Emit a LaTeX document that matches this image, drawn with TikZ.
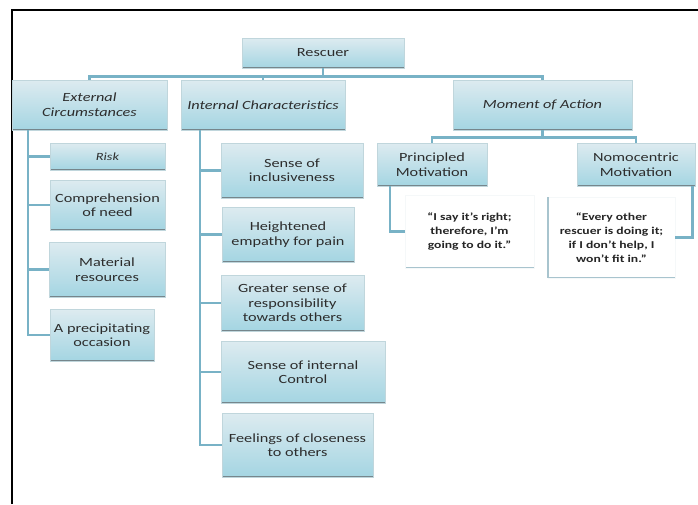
\documentclass[tikz,border=0pt]{standalone}
\usepackage{fontspec}
\setmainfont{Carlito}[FakeStretch=1.3]
\usetikzlibrary{calc}
\definecolor{boxtop}{RGB}{221,235,240}
\definecolor{boxbot}{RGB}{164,213,226}
\definecolor{boxline}{RGB}{192,214,220}
\definecolor{boxshadow}{RGB}{118,134,140}
\definecolor{conn}{RGB}{120,178,198}
\definecolor{txt}{RGB}{45,45,45}
\definecolor{qline}{RGB}{168,196,206}

\begin{document}
\begin{tikzpicture}[x=1pt,y=-1pt,line width=.8pt,font=\fontsize{12.5}{14.5}\selectfont,
  box/.style={shade,top color=boxtop,bottom color=boxbot,draw=boxline,line width=.4pt,
    align=center,inner sep=2pt,text=txt,
    path picture={\draw[boxshadow,line width=2pt] (path picture bounding box.south west)--(path picture bounding box.south east);}},
  quote/.style={fill=white,draw=qline!12,line width=.4pt,align=center,text=black!85,
    font=\fontsize{10.5}{14}\selectfont\bfseries,
    path picture={\draw[qline,line width=2pt] (path picture bounding box.south west)--(path picture bounding box.south east);}},
  link/.style={draw=conn,line width=2.6pt}]
\useasboundingbox (0,0) rectangle (698,504);
\draw[line width=2.3pt] (12,504) -- (12,10) -- (698,10);
% top level
\node[box,minimum width=162pt,minimum height=30pt] (res) at (323,53) {Rescuer};
\node[box,minimum width=155pt,minimum height=50pt,font=\fontsize{12.5}{15}\selectfont\itshape] (ext) at (89.5,105) {External\\Circumstances};
\node[box,minimum width=164pt,minimum height=50pt,font=\fontsize{12.5}{15}\selectfont\itshape] (int) at (263,105) {Internal Characteristics};
\node[box,minimum width=179pt,minimum height=50pt,font=\fontsize{12.5}{15}\selectfont\itshape] (mom) at (542.5,105) {Moment of Action};
% external circumstances
\node[box,minimum width=115pt,minimum height=27pt,font=\fontsize{11}{14}\selectfont\itshape] (risk) at (107.5,156.5) {Risk};
\node[box,minimum width=115pt,minimum height=50pt] (comp) at (107.5,205) {Comprehension\\of need};
\node[box,minimum width=116pt,minimum height=55pt] (mat) at (107,269.5) {Material\\resources};
\node[box,minimum width=104pt,minimum height=52pt] (prec) at (102,335) {A precipitating\\occasion};
% internal characteristics
\node[box,minimum width=142pt,minimum height=55pt] (incl) at (292,170.5) {Sense of\\inclusiveness};
\node[box,minimum width=132pt,minimum height=55pt] (emp) at (288,234.5) {Heightened\\empathy for pain};
\node[box,minimum width=143pt,minimum height=56pt] (resp) at (292.5,303) {Greater sense of\\responsibility\\towards others};
\node[box,minimum width=164pt,minimum height=62pt] (ctrl) at (303,372) {Sense of internal\\Control};
\node[box,minimum width=151pt,minimum height=64pt] (close) at (297.5,445) {Feelings of closeness\\to others};
% moment of action
\node[box,minimum width=110pt,minimum height=43pt] (prin) at (432,164.5) {Principled\\Motivation};
\node[box,minimum width=118pt,minimum height=43pt] (nomo) at (636,164.5) {Nomocentric\\Motivation};
\node[quote,minimum width=129pt,minimum height=73pt] (pq) at (469.5,231.5) {``I say it's right;\\therefore, I'm\\going to do it.''};
\node[quote,minimum width=127pt,minimum height=81pt] (nq) at (611.5,237.5) {``Every other\\rescuer is doing it;\\if I don't help, I\\won't fit in.''};
\draw[qline,line width=2pt] (nq.south west) -- (nq.north west);
% connectors
\foreach \c in {ext,int,mom} \draw[link] (res.south) -- ++(0,8) -| (\c.north);
\coordinate (ebus) at (28,130); \coordinate (ibus) at (200,130);
\foreach \c in {risk,comp,mat,prec} \draw[link] (ebus) |- (\c.west);
\foreach \c in {incl,emp,resp,ctrl,close} \draw[link] (ibus) |- (\c.west);
\foreach \c in {prin,nomo} \draw[link] (mom.south) -- ++(0,7) -| (\c.north);
\draw[link] ($(prin.south west)+(13,0)$) |- (pq.west);
\draw[link] ($(nomo.south east)+(-3,0)$) |- (nq.east);
\end{tikzpicture}
\end{document}
